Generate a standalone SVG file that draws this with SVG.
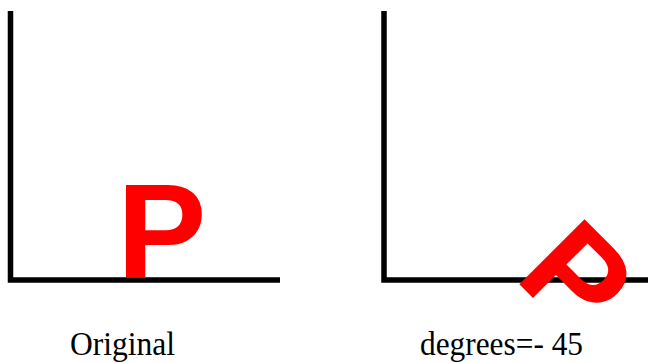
<svg xmlns="http://www.w3.org/2000/svg" width="648" height="363" viewBox="0 0 648 363">
<style>
.axis{fill:none;stroke:#000;stroke-width:5.5;stroke-linecap:butt;stroke-linejoin:miter}
.p{font-family:"Liberation Sans",Arial,sans-serif;font-weight:bold;font-size:134px;fill:#ff0000}
.lbl{font-family:"Liberation Serif","Times New Roman",serif;font-size:33px;fill:#000}
</style>
<rect width="648" height="363" fill="#fff"/>
<g id="original">
<path class="axis" d="M10.5,11 V280 H280"/>
<text class="p" x="117" y="277">P</text>
<text class="lbl" x="70" y="355" textLength="105" lengthAdjust="spacingAndGlyphs">Original</text>
</g>
<g id="rotated">
<path class="axis" d="M384,11 V280 H648"/>
<text class="p" transform="translate(513,278) rotate(45)" x="0" y="0">P</text>
<text class="lbl" x="420" y="355" textLength="163" lengthAdjust="spacingAndGlyphs">degrees=- 45</text>
</g>
</svg>
